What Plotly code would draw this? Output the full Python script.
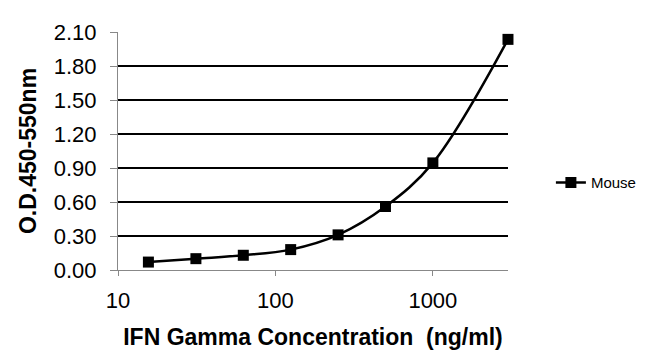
import plotly.graph_objects as go

conc = [15.6, 31.25, 62.5, 125, 250, 500, 1000, 3000]
od = [0.07, 0.10, 0.13, 0.18, 0.31, 0.56, 0.945, 2.035]
series_name = "Mouse"
y_ticks = [0.0, 0.3, 0.6, 0.9, 1.2, 1.5, 1.8, 2.1]
y_tick_labels = ["0.00", "0.30", "0.60", "0.90", "1.20", "1.50", "1.80", "2.10"]
x_ticks = [10, 100, 1000]
x_tick_labels = ["10", "100", "1000"]

FONT = "Liberation Sans, Arial, sans-serif"

fig = go.Figure()
fig.add_trace(go.Scatter(
    x=conc, y=od, name=series_name, mode="lines+markers",
    line=dict(color="black", width=2.5, shape="spline", smoothing=1),
    marker=dict(symbol="square", size=11, color="black"),
    cliponaxis=False,
))

fig.update_layout(
    width=650, height=364,
    margin=dict(l=110, r=150, t=24, b=102),
    paper_bgcolor="white", plot_bgcolor="white",
    showlegend=True,
    legend=dict(x=1.11, y=0.367, xanchor="left", yanchor="middle",
                font=dict(family=FONT, size=15, color="black"),
                bgcolor="rgba(0,0,0,0)"),
    xaxis=dict(
        type="log", range=[1, 3.47725],
        tickvals=x_ticks, ticktext=x_tick_labels,
        showgrid=False, showline=True, linecolor="#888888", linewidth=1,
        ticks="outside", ticklen=5, tickcolor="#888888",
        ticklabelstandoff=6,
        tickfont=dict(family=FONT, size=22, color="black"),
        title=dict(text="<b>IFN Gamma Concentration\u00a0\u00a0(ng/ml)</b>",
                   font=dict(family=FONT, size=23, color="black"), standoff=16),
        zeroline=False, automargin=False,
    ),
    yaxis=dict(
        range=[0, 2.1],
        tickvals=y_ticks, ticktext=y_tick_labels,
        showgrid=True, gridcolor="black", gridwidth=1.5,
        showline=True, linecolor="#888888", linewidth=1,
        ticks="outside", ticklen=7, tickcolor="#888888",
        ticklabelstandoff=9,
        tickfont=dict(family=FONT, size=22, color="black"),
        title=dict(text="<b>O.D.450-550nm</b>",
                   font=dict(family=FONT, size=23, color="black"), standoff=10),
        zeroline=False, automargin=False,
    ),
)

fig.write_html("out.html")
